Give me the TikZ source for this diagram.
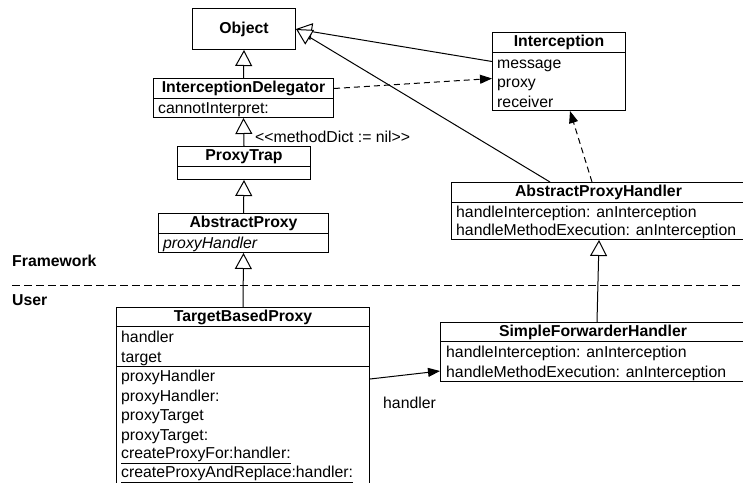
\documentclass[tikz,border=0pt]{standalone}
\usepackage{fontspec}
\setmainfont{Liberation Sans}
\usetikzlibrary{arrows.meta,calc}
\begin{document}
\begin{tikzpicture}[x=1pt,y=-1pt,
  box/.style={draw, line width=1pt, inner sep=0pt, anchor=north west},
  title/.style={font=\fontsize{15.8}{18}\selectfont\bfseries, anchor=center, inner sep=0pt},
  row/.style={font=\fontsize{15.8}{18}\selectfont, anchor=base west, inner sep=0pt},
  lbl/.style={font=\fontsize{15.8}{18}\selectfont\bfseries, anchor=base west, inner sep=0pt},
  gen/.style={line width=1pt, -{Triangle[open,length=16pt,width=17pt,fill=white]}},
  dep/.style={line width=1pt, dash pattern=on 6pt off 4pt, -{Triangle[length=12pt,width=9pt]}},
  assoc/.style={line width=1pt, -{Triangle[length=12pt,width=9pt]}}]
\useasboundingbox (0,0) rectangle (743,482);
\clip (0,0) rectangle (743,482);

% Object
\node[box, minimum width=103pt, minimum height=41pt] (obj) at (192,8) {};
\node[title] (objt) at (obj.center) {Object};

% InterceptionDelegator
\node[box, minimum width=180pt, minimum height=39pt] (idel) at (153,78) {};
\node[box, minimum width=180pt, minimum height=20pt] (idelh) at (153,78) {};
\node[title] (idelt) at (idelh.center) {InterceptionDelegator};
\node[row] (idelr1) at (158,113) {cannotInterpret:};

% ProxyTrap
\node[box, minimum width=133pt, minimum height=33pt] (pt) at (177,146) {};
\node[box, minimum width=133pt, minimum height=20pt] (pth) at (177,146) {};
\node[title] (ptt) at (pth.center) {ProxyTrap};

% AbstractProxy
\node[box, minimum width=170pt, minimum height=39pt] (ap) at (158,213) {};
\node[box, minimum width=170pt, minimum height=20pt] (aph0) at (158,213) {};
\node[title] (apt) at (aph0.center) {AbstractProxy};
\node[row] (apr1) at (163,248.5) {\itshape proxyHandler};

% Interception
\node[box, minimum width=133pt, minimum height=78pt] (int) at (492,32) {};
\node[box, minimum width=133pt, minimum height=20pt] (inth) at (492,32) {};
\node[title] (intt) at (inth.center) {Interception};
\node[row] (intr1) at (497,68) {message};
\node[row] (intr2) at (497,87.5) {proxy};
\node[row] (intr3) at (497,107) {receiver};

% AbstractProxyHandler
\node[box, minimum width=294pt, minimum height=57pt] (aph) at (451,182) {};
\node[box, minimum width=294pt, minimum height=20pt] (aphh) at (451,182) {};
\node[title] (apht) at (aphh.center) {AbstractProxyHandler};
\node[row] (aphr1) at (456,217.3) {handleInterception: anInterception};
\node[row] (aphr2) at (456,235.8) {handleMethodExecution: anInterception};

% Framework / User
\node[lbl] (fw) at (12,266.5) {Framework};
\node[lbl] (us) at (12,305.5) {User};
\coordinate (sepl) at (12,285);
\coordinate (sepr) at (745,285);
\draw[line width=1pt, dash pattern=on 8pt off 4pt] (sepl) -- (sepr);

% TargetBasedProxy
\node[box, minimum width=253pt, minimum height=180pt] (tbp) at (116,307) {};
\node[box, minimum width=253pt, minimum height=19pt] (tbph) at (116,307) {};
\node[box, minimum width=253pt, minimum height=40pt] (tbpa) at (116,326) {};
\node[title] (tbpt) at (tbph.center) {TargetBasedProxy};
\node[row] (tbpr1) at (121,342.5) {handler};
\node[row] (tbpr2) at (121,362) {target};
\node[row] (tbpm1) at (121,381.5) {proxyHandler};
\node[row] (tbpm2) at (121,401) {proxyHandler:};
\node[row] (tbpm3) at (121,420.5) {proxyTarget};
\node[row] (tbpm4) at (121,440) {proxyTarget:};
\node[row] (tbpm5) at (121,458.5) {\underline{createProxyFor:handler:}};
\node[row] (tbpm6) at (121,477.5) {\underline{createProxyAndReplace:handler:}};

% SimpleForwarderHandler
\node[box, minimum width=305pt, minimum height=59pt] (sfh) at (440,322) {};
\node[box, minimum width=305pt, minimum height=19pt] (sfhh) at (440,322) {};
\node[title] (sfht) at (sfhh.center) {SimpleForwarderHandler};
\node[row] (sfhr1) at (446,357.2) {handleInterception: anInterception};
\node[row] (sfhr2) at (446,377.2) {handleMethodExecution: anInterception};

% labels
\node[row] (mdl) at (255,142.5) {<{}<methodDict := nil>{}>};
\node[row] (hl) at (383,408.5) {handler};

% connectors
\draw[gen] (idel.north) -- (obj.south);
\draw[gen] (pt.north) -- (idel.south);
\draw[gen] (ap.north) -- (pt.south);
\draw[gen] (tbp.north) -- (ap.south);
\draw[gen] ([yshift=10pt]int.west) -- (obj.east);
\draw[gen] ([xshift=99pt]aph.north west) -- (obj.east);
\draw[dep] (idelh.east) -- ([yshift=-7pt]int.west);
\draw[dep] ([xshift=141pt]aph.north west) -- ([xshift=78pt]int.south west);
\draw[gen] ([xshift=157pt]sfh.north west) -- ([xshift=148pt]aph.south west);
\draw[assoc] ([yshift=-72pt]tbp.north east) -- ([yshift=-49pt]sfh.north west);
\end{tikzpicture}
\end{document}
